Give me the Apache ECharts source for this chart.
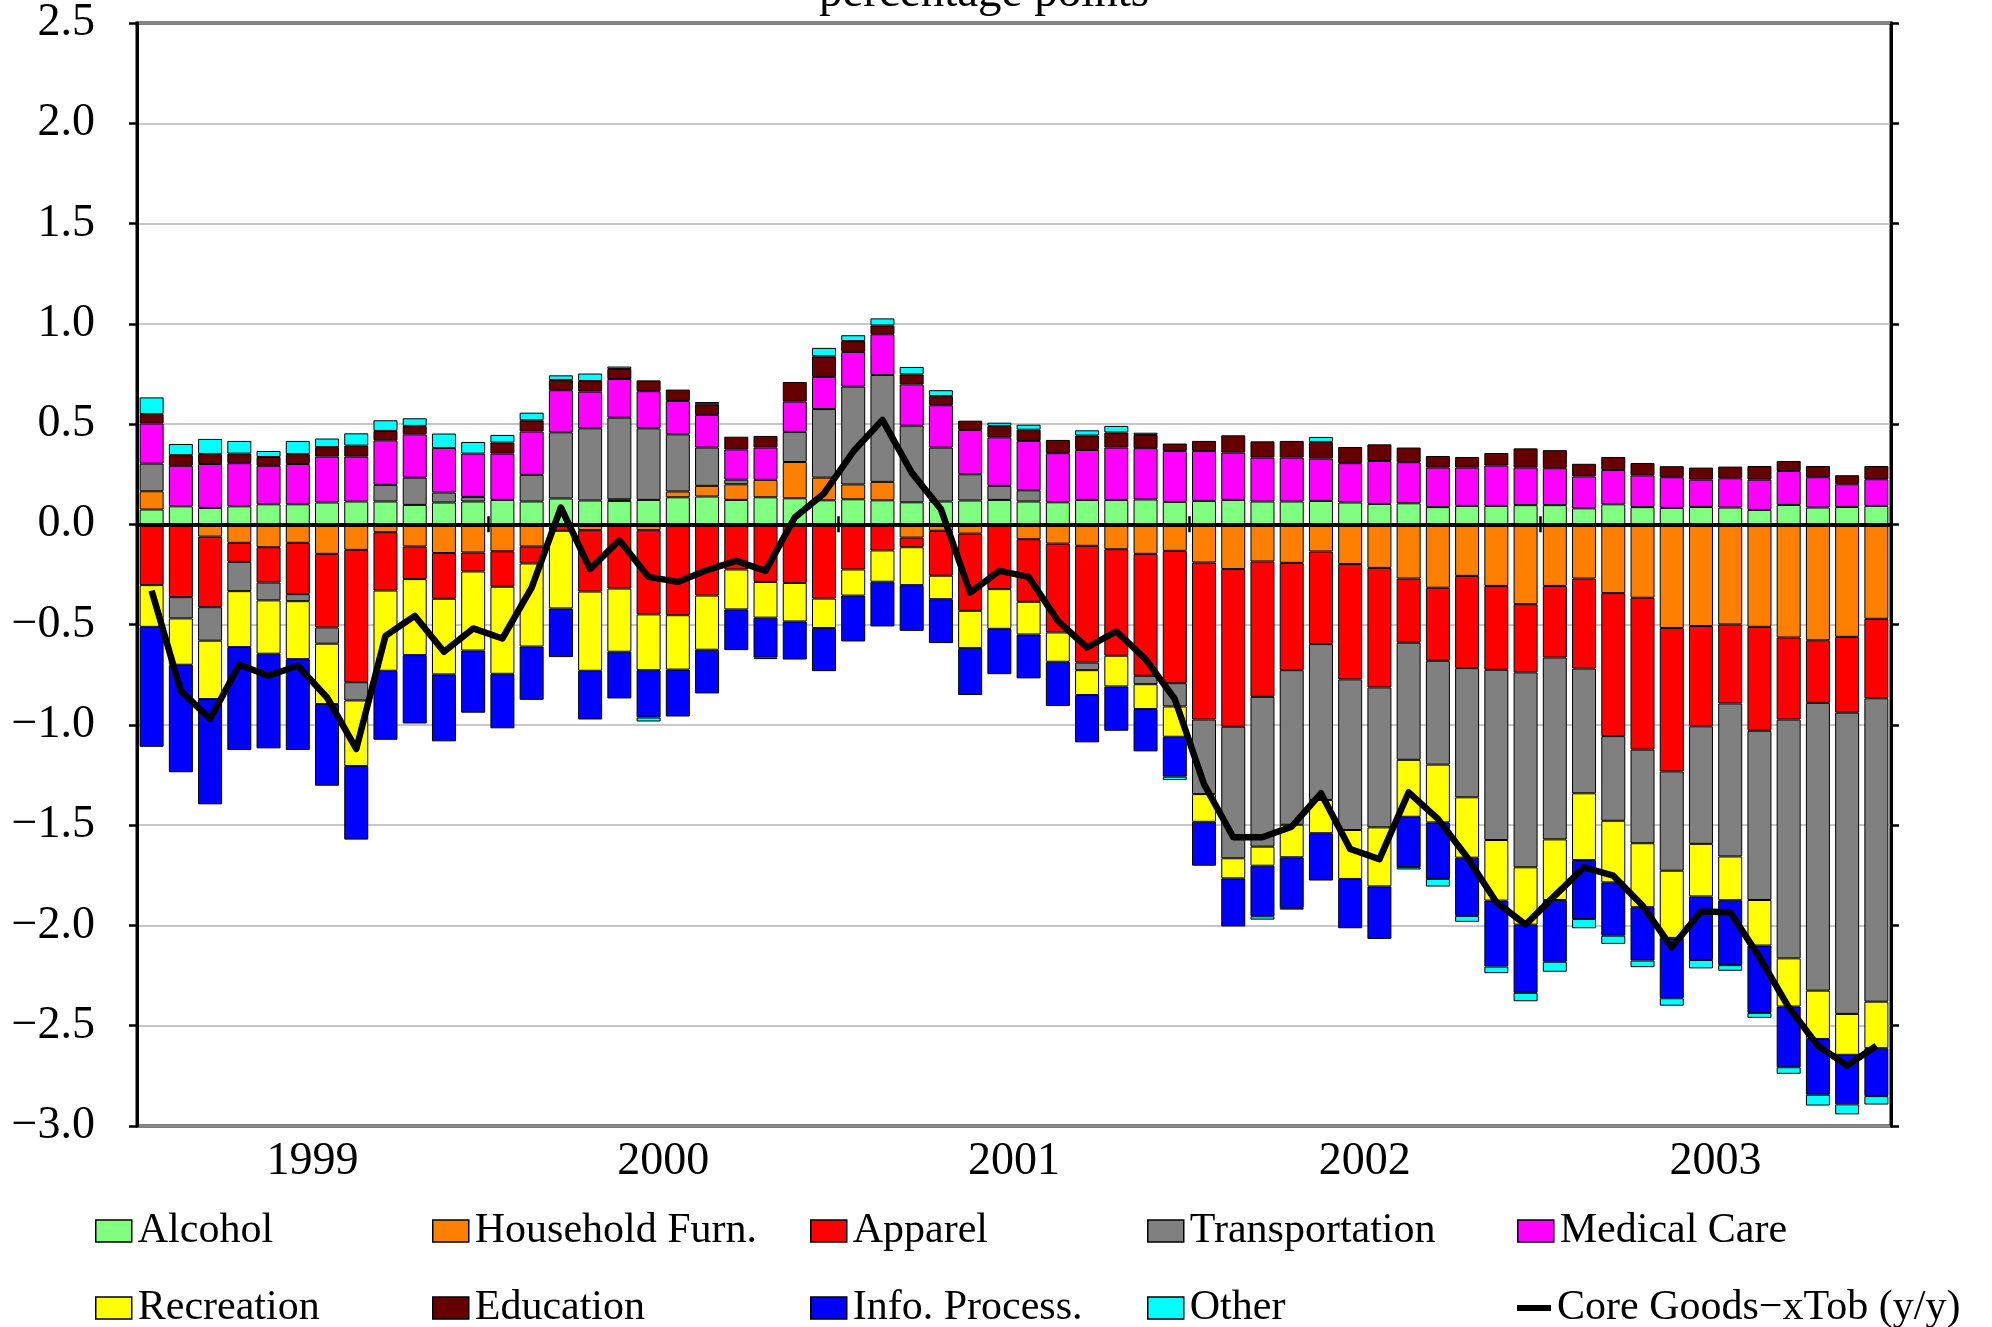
<!DOCTYPE html>
<html>
<head>
<meta charset="utf-8">
<script src="https://cdn.jsdelivr.net/npm/echarts@6/dist/echarts.min.js"></script>
<style>
  html, body { margin: 0; padding: 0; background: #fff; }
  #chart { width: 1992px; height: 1327px; }
</style>
</head>
<body>
<div id="chart"></div>
<script>
// 月份（1999-01 ~ 2003-12）
const months = [
  '1999-01','1999-02','1999-03','1999-04','1999-05','1999-06','1999-07','1999-08','1999-09','1999-10','1999-11','1999-12',
  '2000-01','2000-02','2000-03','2000-04','2000-05','2000-06','2000-07','2000-08','2000-09','2000-10','2000-11','2000-12',
  '2001-01','2001-02','2001-03','2001-04','2001-05','2001-06','2001-07','2001-08','2001-09','2001-10','2001-11','2001-12',
  '2002-01','2002-02','2002-03','2002-04','2002-05','2002-06','2002-07','2002-08','2002-09','2002-10','2002-11','2002-12',
  '2003-01','2003-02','2003-03','2003-04','2003-05','2003-06','2003-07','2003-08','2003-09','2003-10','2003-11','2003-12'
]
const years = ['1999', '2000', '2001', '2002', '2003']

// 各分项贡献（百分点）
const alcohol = [
  0.074, 0.090, 0.082, 0.090, 0.100, 0.100, 0.109, 0.114, 0.114, 0.097, 0.109, 0.114,
  0.122, 0.114, 0.129, 0.119, 0.117, 0.122, 0.135, 0.139, 0.122, 0.135, 0.130, 0.120,
  0.125, 0.120, 0.110, 0.114, 0.119, 0.122, 0.114, 0.110, 0.122, 0.122, 0.124, 0.112,
  0.117, 0.122, 0.114, 0.114, 0.117, 0.109, 0.102, 0.105, 0.086, 0.092, 0.092, 0.096,
  0.096, 0.080, 0.100, 0.086, 0.082, 0.087, 0.084, 0.072, 0.097, 0.084, 0.087, 0.092
]
const household = [
  0.091, 0, -0.061, -0.092, -0.114, -0.092, -0.147, -0.127, -0.039, -0.110, -0.143, -0.140,
  -0.134, -0.110, 0, -0.029, 0.008, -0.029, 0.029, 0.053, 0.078, 0.087, 0.181, 0.113,
  0.074, 0.092, -0.066, -0.032, -0.046, 0, -0.074, -0.096, -0.107, -0.124, -0.147, -0.132,
  -0.190, -0.223, -0.185, -0.192, -0.135, -0.198, -0.217, -0.270, -0.316, -0.257, -0.307, -0.398,
  -0.307, -0.270, -0.343, -0.366, -0.517, -0.507, -0.499, -0.511, -0.564, -0.578, -0.561, -0.471
]
const apparel = [
  -0.303, -0.363, -0.352, -0.095, -0.176, -0.256, -0.367, -0.660, -0.291, -0.163, -0.228, -0.095,
  -0.177, -0.085, -0.032, -0.306, -0.320, -0.420, -0.453, -0.355, -0.225, -0.287, -0.292, -0.370,
  -0.225, -0.130, -0.048, -0.224, -0.385, -0.323, -0.312, -0.443, -0.582, -0.531, -0.608, -0.660,
  -0.783, -0.786, -0.675, -0.535, -0.462, -0.575, -0.596, -0.320, -0.364, -0.460, -0.418, -0.340,
  -0.357, -0.449, -0.713, -0.757, -0.715, -0.500, -0.394, -0.518, -0.409, -0.312, -0.378, -0.396
]
const transport = [
  0.138, -0.106, -0.167, -0.146, -0.089, -0.035, -0.081, -0.091, 0.083, 0.136, 0.050, 0.023,
  0, 0.133, 0.330, 0.360, 0.407, 0.357, 0.285, 0.191, 0.023, 0, 0.150, 0.342,
  0.488, 0.533, 0.382, 0.269, 0.131, 0.070, 0.056, 0, -0.038, 0, -0.042, -0.116,
  -0.372, -0.656, -0.747, -0.771, -0.777, -0.751, -0.698, -0.584, -0.518, -0.644, -0.849, -0.972,
  -0.907, -0.622, -0.422, -0.467, -0.495, -0.586, -0.763, -0.844, -1.191, -1.435, -1.502, -1.513
]
const medical = [
  0.200, 0.202, 0.219, 0.215, 0.192, 0.201, 0.229, 0.224, 0.222, 0.216, 0.222, 0.216,
  0.231, 0.216, 0.210, 0.183, 0.193, 0.185, 0.166, 0.163, 0.151, 0.161, 0.151, 0.160,
  0.173, 0.203, 0.206, 0.211, 0.221, 0.242, 0.246, 0.245, 0.249, 0.261, 0.256, 0.254,
  0.249, 0.236, 0.219, 0.219, 0.211, 0.196, 0.214, 0.205, 0.197, 0.191, 0.201, 0.187,
  0.184, 0.159, 0.171, 0.158, 0.153, 0.136, 0.146, 0.151, 0.169, 0.151, 0.113, 0.133
]
const recreation = [
  -0.208, -0.231, -0.291, -0.279, -0.266, -0.289, -0.301, -0.327, -0.400, -0.379, -0.377, -0.394,
  -0.434, -0.414, -0.387, -0.395, -0.315, -0.278, -0.271, -0.270, -0.199, -0.178, -0.192, -0.147,
  -0.130, -0.156, -0.189, -0.117, -0.186, -0.198, -0.163, -0.146, -0.124, -0.153, -0.124, -0.151,
  -0.138, -0.100, -0.095, -0.162, -0.166, -0.244, -0.294, -0.284, -0.288, -0.301, -0.302, -0.286,
  -0.302, -0.333, -0.307, -0.319, -0.335, -0.262, -0.218, -0.227, -0.240, -0.241, -0.204, -0.232
]
const education = [
  0.047, 0.053, 0.050, 0.048, 0.044, 0.050, 0.047, 0.055, 0.047, 0.042, 0, 0,
  0.055, 0.056, 0.051, 0.053, 0.050, 0.054, 0.057, 0.053, 0.063, 0.058, 0.098, 0.103,
  0.054, 0.044, 0.050, 0.046, 0.046, 0.057, 0.056, 0.066, 0.072, 0.075, 0.066, 0.037,
  0.050, 0.086, 0.081, 0.083, 0.083, 0.081, 0.083, 0.073, 0.058, 0.053, 0.063, 0.096,
  0.090, 0.063, 0.065, 0.062, 0.055, 0.060, 0.058, 0.068, 0.050, 0.056, 0.045, 0.066
]
const infoProc = [
  -0.598, -0.536, -0.525, -0.513, -0.472, -0.453, -0.407, -0.367, -0.344, -0.341, -0.334, -0.310,
  -0.272, -0.266, -0.243, -0.243, -0.233, -0.236, -0.234, -0.218, -0.203, -0.199, -0.190, -0.215,
  -0.229, -0.223, -0.228, -0.219, -0.234, -0.226, -0.219, -0.221, -0.236, -0.221, -0.211, -0.199,
  -0.219, -0.240, -0.252, -0.252, -0.236, -0.246, -0.262, -0.251, -0.282, -0.290, -0.329, -0.340,
  -0.308, -0.294, -0.266, -0.266, -0.301, -0.317, -0.324, -0.336, -0.303, -0.278, -0.247, -0.239
]
const other = [
  0.083, 0.056, 0.075, 0.063, 0.030, 0.065, 0.043, 0.061, 0.053, 0.038, 0.072, 0.058,
  0.038, 0.038, 0.023, 0.037, 0.012, -0.020, 0, 0.011, 0, -0.008, 0, 0.042,
  0.029, 0.035, 0.037, 0.029, 0, 0.016, 0.025, 0, 0.026, 0.033, 0.011, -0.017,
  0, 0, -0.017, -0.009, 0.025, 0, 0, -0.012, -0.038, -0.030, -0.033, -0.042,
  -0.050, -0.046, -0.041, -0.033, -0.037, -0.042, -0.028, -0.025, -0.033, -0.054, -0.050, -0.042
]
// 核心商品（除烟草）同比
const coreGoods = [
  -0.33, -0.83, -0.97, -0.70, -0.755, -0.705, -0.863, -1.12, -0.556, -0.456, -0.635, -0.519,
  -0.569, -0.315, 0.084, -0.223, -0.079, -0.262, -0.287, -0.228, -0.182, -0.232, 0.034, 0.154,
  0.363, 0.521, 0.258, 0.076, -0.34, -0.232, -0.262, -0.481, -0.614, -0.534, -0.672, -0.871,
  -1.295, -1.56, -1.56, -1.507, -1.341, -1.619, -1.669, -1.336, -1.469, -1.66, -1.884, -1.996,
  -1.851, -1.71, -1.752, -1.901, -2.109, -1.931, -1.934, -2.158, -2.408, -2.60, -2.699, -2.60
]

const FONT = 'Liberation Serif'

// 堆叠柱定义
const barDefs = [
  { name: 'Alcohol', data: alcohol, color: '#80ff80' },
  { name: 'Household Furn.', data: household, color: '#ff8000' },
  { name: 'Apparel', data: apparel, color: '#ff0000' },
  { name: 'Transportation', data: transport, color: '#808080' },
  { name: 'Medical Care', data: medical, color: '#ff00ff' },
  { name: 'Recreation', data: recreation, color: '#ffff00' },
  { name: 'Education', data: education, color: '#660000' },
  { name: 'Info. Process.', data: infoProc, color: '#0000ff' },
  { name: 'Other', data: other, color: '#00ffff' }
]
const lineName = 'Core Goods\u2212xTob (y/y)'

// 图例位置（两行五列）
const legendPos = [
  ['Alcohol', 95, 0], ['Household Furn.', 432, 0], ['Apparel', 810, 0], ['Transportation', 1147, 0], ['Medical Care', 1517, 0],
  ['Recreation', 95, 1], ['Education', 432, 1], ['Info. Process.', 810, 1], ['Other', 1147, 1], [lineName, 1517, 1]
]
const legendTop = [1210, 1287]

const series = barDefs.map(d => ({
  name: d.name,
  type: 'bar',
  stack: 'total',
  barWidth: 24,
  data: d.data.map(v => (v === 0 ? '-' : v)),
  itemStyle: { color: d.color, borderColor: '#000', borderWidth: 1 }
}))
series.push({
  name: lineName,
  type: 'line',
  data: coreGoods,
  symbol: 'none',
  z: 5,
  lineStyle: { color: '#000', width: 6.5, join: 'round' },
  itemStyle: { color: '#000' }
})

const legends = legendPos.map(([name, left, row]) => {
  const isLine = name === lineName
  return {
    data: [isLine ? { name, icon: 'rect', itemStyle: { color: '#000', borderWidth: 0 } } : { name, icon: 'rect' }],
    left,
    top: legendTop[row],
    padding: 0,
    itemGap: 0,
    selectedMode: false,
    itemWidth: isLine ? 34 : 36,
    itemHeight: isLine ? 6 : 22,
    itemStyle: isLine ? {} : { borderColor: '#000', borderWidth: 1.5 },
    textStyle: { fontFamily: FONT, fontSize: 42, color: '#000', padding: [0, 0, 0, 1] }
  }
})

// 年份分隔刻度（在零线上，内外各一段）
const yearTick = inside => ({
  type: 'value',
  min: 0,
  max: 60,
  interval: 12,
  position: 'bottom',
  z: 10,
  axisLine: { show: false, onZero: true, onZeroAxisIndex: 0 },
  axisTick: { show: true, inside, length: 8, lineStyle: { color: '#000', width: 2.5 } },
  axisLabel: { show: false },
  splitLine: { show: false }
})

const chart = echarts.init(document.getElementById('chart'), null, { renderer: 'canvas' })
chart.setOption({
  animation: false,
  backgroundColor: '#fff',
  graphic: [{
    type: 'text',
    style: { text: 'percentage points', x: 984, y: -6, textAlign: 'center', textVerticalAlign: 'middle', fontFamily: FONT, fontSize: 47, fill: '#000' },
    silent: true
  }],
  legend: legends,
  grid: { left: 137, right: 101, top: 21, bottom: 201, show: true, borderColor: '#000', borderWidth: 3, backgroundColor: 'transparent' },
  xAxis: [
    {
      type: 'category',
      data: months,
      position: 'bottom',
      z: 10,
      axisLine: { onZero: true, onZeroAxisIndex: 0, lineStyle: { color: '#000', width: 4 } },
      axisTick: { show: false },
      axisLabel: { show: false },
      splitLine: { show: false }
    },
    yearTick(false),
    yearTick(true),
    {
      type: 'category',
      data: years,
      position: 'bottom',
      axisLine: { show: false, onZero: false },
      axisTick: { show: false },
      axisLabel: { fontFamily: FONT, fontSize: 46, color: '#000', margin: 13 },
      splitLine: { show: false }
    }
  ],
  yAxis: [
    {
      type: 'value',
      min: -3,
      max: 2.5,
      interval: 0.5,
      position: 'left',
      axisLine: { show: true, onZero: false, lineStyle: { color: '#000', width: 3 } },
      axisTick: { show: true, length: 8, lineStyle: { color: '#000', width: 2.5 } },
      axisLabel: {
        fontFamily: FONT, fontSize: 46, color: '#000', margin: 42,
        formatter: v => v.toFixed(1).replace('-', '\u2212')
      },
      splitLine: { show: true, lineStyle: { color: '#b4b4b4', width: 1.5 } }
    },
    {
      type: 'value',
      min: -3,
      max: 2.5,
      interval: 0.5,
      position: 'right',
      axisLine: { show: true, onZero: false, lineStyle: { color: '#000', width: 3 } },
      axisTick: { show: true, length: 8, lineStyle: { color: '#000', width: 2.5 } },
      axisLabel: { show: false },
      splitLine: { show: false }
    }
  ],
  series
})
</script>
</body>
</html>
